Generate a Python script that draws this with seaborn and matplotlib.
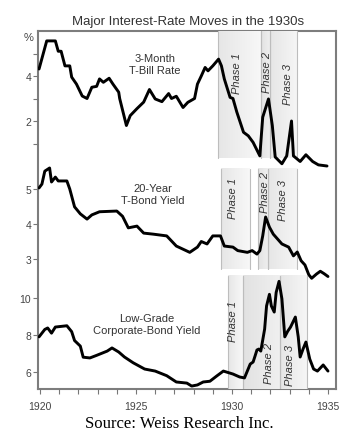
import numpy as np
import pandas as pd
import matplotlib
matplotlib.use("Agg")
import matplotlib.pyplot as plt
from matplotlib.colors import LinearSegmentedColormap
import seaborn as sns

# ---------------- data ----------------
tbill_year = [1919.95, 1920.35, 1920.8, 1920.95, 1921.1, 1921.3, 1921.55, 1921.65, 1921.9, 1922.2,
              1922.45, 1922.7, 1922.95, 1923.1, 1923.3, 1923.6, 1923.8, 1924.1, 1924.15, 1924.5,
              1924.7, 1925.05, 1925.4, 1925.7, 1926.0, 1926.35, 1926.7, 1926.85, 1927.1, 1927.45,
              1927.7, 1928.05, 1928.2, 1928.4, 1928.6, 1928.75, 1929.0, 1929.3, 1929.45, 1929.6,
              1929.9, 1930.05, 1930.25, 1930.6, 1930.85, 1931.1, 1931.45, 1931.6, 1931.9, 1932.1,
              1932.25, 1932.6, 1932.85, 1933.1, 1933.2, 1933.55, 1933.85, 1934.2, 1934.5, 1934.95]
tbill_rate = [4.31, 5.56, 5.56, 5.1, 5.1, 4.45, 4.45, 3.95, 3.64, 3.11,
              3.0, 3.5, 3.54, 3.87, 3.72, 3.9, 3.64, 3.28, 3.0, 1.8,
              2.24, 2.55, 2.84, 3.4, 2.98, 2.86, 3.22, 3.0, 3.1, 2.6,
              2.83, 3.0, 3.64, 4.0, 4.38, 4.23, 4.45, 4.75, 4.45, 3.87,
              3.05, 3.0, 2.4, 1.5, 1.34, 1.05, 0.45, 2.17, 2.98, 1.8,
              0.4, 0.1, 0.45, 2.0, 0.45, 0.2, 0.5, 0.2, 0.05, 0.0]

tbond_year = [1919.95, 1920.1, 1920.25, 1920.5, 1920.6, 1920.8, 1920.95, 1921.4, 1921.55, 1921.8,
              1922.1, 1922.45, 1922.7, 1923.1, 1924.0, 1924.3, 1924.6, 1925.05, 1925.4, 1925.9,
              1926.6, 1927.1, 1927.8, 1928.2, 1928.4, 1928.7, 1929.0, 1929.4, 1929.6, 1930.05,
              1930.3, 1930.8, 1931.05, 1931.3, 1931.45, 1931.6, 1931.75, 1931.95, 1932.15, 1932.6,
              1932.95, 1933.2, 1933.4, 1933.6, 1933.8, 1934.0, 1934.15, 1934.4, 1934.6, 1934.8, 1935.0]
tbond_yield = [5.03, 5.14, 5.51, 5.6, 5.2, 5.34, 5.23, 5.23, 5.0, 4.49,
               4.29, 4.14, 4.26, 4.35, 4.37, 4.22, 3.89, 3.94, 3.74, 3.71,
               3.66, 3.37, 3.19, 3.34, 3.5, 3.43, 3.66, 3.66, 3.37, 3.34,
               3.24, 3.19, 3.24, 3.14, 3.24, 3.66, 4.2, 3.91, 3.71, 3.43,
               3.34, 3.09, 3.2, 2.95, 2.83, 2.55, 2.45, 2.57, 2.65, 2.58, 2.5]

corp_year = [1919.95, 1920.25, 1920.4, 1920.6, 1920.8, 1921.4, 1921.65, 1921.8, 1922.1, 1922.25,
             1922.6, 1922.95, 1923.5, 1923.75, 1924.1, 1924.4, 1924.85, 1925.45, 1926.0, 1926.6,
             1927.1, 1927.65, 1927.9, 1928.2, 1928.5, 1928.85, 1929.2, 1929.55, 1930.05, 1930.4,
             1930.65, 1930.95, 1931.1, 1931.2, 1931.3, 1931.4, 1931.5, 1931.7, 1931.8, 1931.95,
             1932.05, 1932.2, 1932.3, 1932.45, 1932.6, 1932.75, 1932.9, 1933.05, 1933.3, 1933.45,
             1933.55, 1933.7, 1933.85, 1934.05, 1934.25, 1934.45, 1934.75, 1935.0]
corp_yield = [7.9, 8.3, 8.38, 8.1, 8.43, 8.5, 8.18, 7.7, 7.4, 6.8,
              6.76, 6.9, 7.13, 7.3, 7.08, 6.81, 6.5, 6.16, 6.05, 5.8,
              5.46, 5.4, 5.24, 5.3, 5.46, 5.5, 5.78, 6.05, 5.89, 5.73,
              5.68, 6.43, 6.54, 6.86, 7.19, 7.24, 7.13, 8.32, 9.57, 10.2,
              9.57, 9.24, 10.3, 10.9, 9.95, 7.9, 8.2, 8.43, 8.97, 7.9,
              6.81, 7.24, 7.62, 6.7, 6.16, 6.05, 6.38, 6.05]

phase_names = ["Phase 1", "Phase 2", "Phase 3"]
tbill_phase_start = [1929.27, 1931.51, 1931.98]
tbill_phase_end = [1931.51, 1931.98, 1933.39]
tbond_phase_start = [1929.45, 1931.35, 1931.875]
tbond_phase_end = [1930.94, 1931.875, 1933.39]
corp_phase_start = [1929.79, 1930.57, 1932.5]
corp_phase_end = [1930.57, 1932.5, 1933.9]

series_labels = ["3-Month\nT-Bill Rate", "20-Year\nT-Bond Yield", "Low-Grade\nCorporate-Bond Yield"]
year_ticks = list(range(1920, 1936))
year_labels = [str(y) if y % 5 == 0 else "" for y in year_ticks]

# ---------------- figure ----------------
W, H = 353, 435
sns.set_theme(style="white")
plt.rcParams["font.family"] = ["Liberation Sans", "DejaVu Sans"]

fig = plt.figure(figsize=(W / 100, H / 100), dpi=100)


def box(l, t, r, b):
    return [l / W, 1 - b / H, (r - l) / W, (b - t) / H]


XL = (1919.896, 1935.417)
frame = fig.add_axes(box(38, 32, 336, 390), zorder=0)
frame.set_xlim(XL)
frame.set_xticks([])
frame.set_yticks([])
for s in frame.spines.values():
    s.set_color("#7d7d7d")
    s.set_linewidth(1.5)

panels = [
    dict(pos=box(38, 32, 336, 170), ylim=(-0.133, 6.0), z=3, yr=tbill_year, val=tbill_rate,
         ps=tbill_phase_start, pe=tbill_phase_end, shade=(0.36, 6.0),
         major=[2, 4], minor=[1, 3, 5],
         ptxt=[(1930.26, 4.18), (1931.82, 4.22), (1932.92, 3.69)],
         lab=(1925.99, 4.53)),
    dict(pos=box(38, 160, 336, 285), ylim=(2.286, 5.857), z=2, yr=tbond_year, val=tbond_yield,
         ps=tbond_phase_start, pe=tbond_phase_end, shade=(2.71, 5.57),
         major=[3, 4, 5], minor=[],
         ptxt=[(1930.05, 4.77), (1931.72, 4.94), (1932.66, 4.69)],
         lab=(1925.89, 4.86)),
    dict(pos=box(38, 270, 336, 390), ylim=(5.081, 11.568), z=1, yr=corp_year, val=corp_yield,
         ps=corp_phase_start, pe=corp_phase_end, shade=(5.081, 11.19),
         major=[6, 8, 10], minor=[],
         ptxt=[(1930.05, 8.81), (1931.93, 6.49), (1933.02, 6.43)],
         lab=(1925.57, 8.59)),
]

shade_cmaps = [
    LinearSegmentedColormap.from_list("p1", ["#e6e6e6", "#f8f8f8"]),
    LinearSegmentedColormap.from_list("p2", ["#e2e2e2", "#f0f0f0"]),
    LinearSegmentedColormap.from_list("p3", ["#e6e6e6", "#f6f6f6"]),
]
grad = np.linspace(0.0, 1.0, 64).reshape(1, -1)
axes = []
for i, p in enumerate(panels):
    ax = fig.add_axes(p["pos"], zorder=p["z"])
    ax.patch.set_visible(False)
    for s in ax.spines.values():
        s.set_visible(False)
    # phase shading
    lo, hi = p["shade"]
    for k, (x0, x1) in enumerate(zip(p["ps"], p["pe"])):
        ax.imshow(grad, extent=[x0, x1, lo, hi], aspect="auto", cmap=shade_cmaps[k],
                  vmin=0, vmax=1, interpolation="bilinear", zorder=1)
        for xb in (x0, x1):
            ax.plot([xb, xb], [lo, hi], color="#bdbdbd", lw=0.8, zorder=1.5)
    df = pd.DataFrame({"year": p["yr"], "value": p["val"]})
    sns.lineplot(data=df, x="year", y="value", ax=ax, color="black", lw=2.1,
                 estimator=None, zorder=3)
    for name, (tx, ty) in zip(phase_names, p["ptxt"]):
        ax.text(tx, ty, name, rotation=90, ha="center", va="center", style="italic",
                fontsize=8, color="#333333", zorder=4)
    ax.text(p["lab"][0], p["lab"][1], series_labels[i], ha="center", va="center",
            fontsize=8, color="#333333", linespacing=1.25, zorder=4)
    ax.set_xlim(XL)
    ax.set_ylim(p["ylim"])
    ax.set_xlabel("")
    ax.set_ylabel("")
    ax.set_yticks(p["major"])
    ax.set_yticklabels([str(v) for v in p["major"]])
    ax.set_yticks(p["minor"], minor=True)
    ax.tick_params(axis="y", which="both", left=True, direction="out", length=3.5, width=0.8,
                   color="#777777", labelsize=7.5, labelcolor="#444444", pad=1.5)
    if i < 2:
        ax.set_xticks([])
    else:
        ax.set_xticks(year_ticks)
        ax.set_xticklabels(year_labels)
        ax.tick_params(axis="x", bottom=True, direction="out", length=3.5, width=0.8,
                       color="#777777", labelsize=7.5, labelcolor="#444444", pad=5)
    axes.append(ax)

fig.text(29 / W, 1 - 38 / H, "%", ha="center", va="center", fontsize=8, color="#444444")
fig.text(188 / W, 1 - 22 / H, "Major Interest-Rate Moves in the 1930s", ha="center", va="center",
         fontsize=9.5, color="#333333")
fig.text(179 / W, 1 - 424 / H, "Source: Weiss Research Inc.", ha="center", va="center",
         fontsize=12, color="black", family=["Liberation Serif", "DejaVu Serif"])

fig.savefig("out.png", dpi=100)
